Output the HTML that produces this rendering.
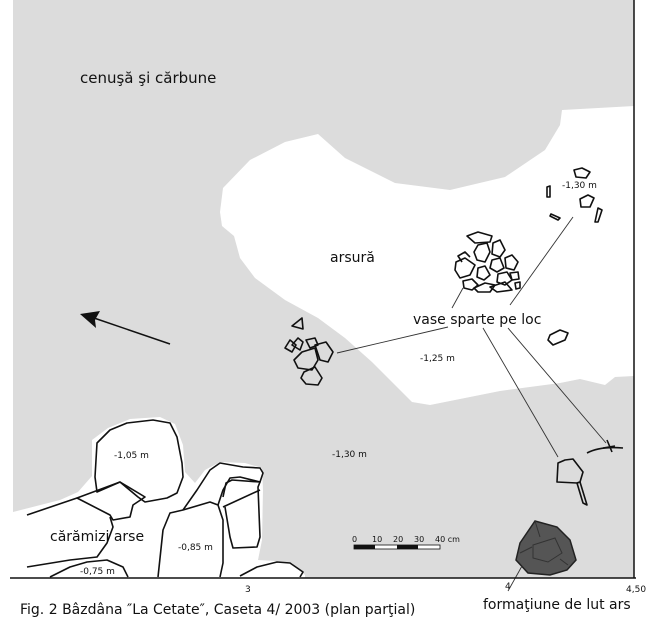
<!DOCTYPE html>
<html><head><meta charset="utf-8"><style>
html,body{margin:0;padding:0;background:#fff;}
svg{display:block;}
text{font-family:"DejaVu Sans","Liberation Sans",sans-serif;fill:#111;}
</style></head><body>
<svg width="650" height="636" viewBox="0 0 650 636" xmlns="http://www.w3.org/2000/svg">
<rect width="650" height="636" fill="#fff"/>
<rect x="13" y="0" width="621" height="578" fill="#dcdcdc"/>
<path d="M220,212 L223,188 L250,160 L285,142 L318,134 L345,158 L395,183 L450,190 L505,177 L545,150 L560,125 L562,110 L634,106 L634,376 L615,377 L605,385 L580,379 L560,383 L500,391 L430,405 L412,402 L395,385 L372,362 L345,338 L318,318 L285,300 L255,278 L240,258 L234,236 L222,226 Z" fill="#fff"/>
<path d="M13,512 L60,500 L78,492 L92,476 L92,440 L108,428 L130,419 L160,417 L175,424 L183,445 L185,472 L195,483 L205,470 L220,462 L245,463 L262,468 L263,490 L262,540 L258,560 L275,561 L292,563 L305,575 L305,578 L13,578 Z" fill="#fff"/>
<g fill="none" stroke="#111" stroke-width="1.6" stroke-linejoin="round">
<path d="M97,443 L110,430 L127,423 L153,420 L170,423 L177,437 L182,463 L183,477 L177,493 L167,498 L145,502 L138,497 L120,482 L97,492 L95,477 Z"/>
<path d="M77,498 L120,482 L145,497 L133,505 L130,517 L113,520 L110,515 Z"/>
<path d="M27,515 L77,498"/>
<path d="M110,517 L113,527 L107,543 L97,557 L70,560 L27,567"/>
<path d="M50,577 L70,567 L87,562 L107,560 L123,567 L128,577"/>
<path d="M158,577 L163,530 L170,513 L183,510 L210,502 L218,505 L223,520 L223,563 L220,577"/>
<path d="M183,510 L197,490 L210,470 L220,463 L243,467 L260,468 L263,473 L260,482 L240,477 L230,478 L223,490 L218,505"/>
<path d="M223,497 L226,483 L232,480 L260,482 L258,487 L260,537 L257,547 L233,548 L230,537 L225,507"/>
<path d="M223,507 L260,490"/>
<path d="M240,576 L257,567 L277,562 L290,563 L303,572 L300,577"/>
<path d="M558,463 L565,460 L573,459 L583,472 L580,482 L577,483 L557,482 Z"/>
<path d="M577,483 L580,482 L587,505 L583,503 Z"/>
<path d="M587,453 Q600,446 623,448"/>
<path d="M607,440 L612,452 M603,448 L615,446"/>
<path d="M467,236 L478,232 L492,236 L490,242 L475,243 Z"/>
<path d="M478,245 L487,243 L490,252 L485,262 L477,260 L474,252 Z"/>
<path d="M493,243 L500,240 L505,250 L500,257 L492,254 Z"/>
<path d="M456,262 L465,258 L475,265 L470,275 L460,278 L455,270 Z"/>
<path d="M478,268 L485,266 L490,275 L484,280 L477,277 Z"/>
<path d="M492,260 L500,258 L504,268 L497,272 L490,268 Z"/>
<path d="M505,258 L512,255 L518,262 L514,270 L506,268 Z"/>
<path d="M498,274 L507,272 L512,280 L505,285 L497,282 Z"/>
<path d="M463,281 L472,279 L478,285 L472,290 L464,288 Z"/>
<path d="M474,288 L485,283 L495,285 L490,292 L478,292 Z"/>
<path d="M490,287 L505,282 L512,290 L497,292 Z"/>
<path d="M515,283 L520,282 L520,288 L516,289 Z"/>
<path d="M462,262 L458,256 L465,252 L470,257"/>
<path d="M510,273 L518,272 L519,279 L512,280 Z"/>
<path d="M574,170 L582,168 L590,172 L586,178 L576,177 Z"/>
<path d="M547,187 L550,186 L550,197 L547,197 Z"/>
<path d="M580,199 L588,195 L594,198 L590,207 L581,207 Z"/>
<path d="M551,214 L560,218 L558,220 L550,216 Z"/>
<path d="M598,208 L602,210 L598,222 L595,222 Z"/>
<path d="M550,335 L560,330 L568,333 L565,340 L553,345 L548,340 Z"/>
<path d="M292,326 L302,318 L303,329 Z"/>
<path d="M285,348 L290,340 L296,345 L292,352 Z"/>
<path d="M292,345 L298,338 L303,342 L300,350 Z"/>
<path d="M302,352 L315,348 L318,360 L312,370 L298,368 L294,360 Z"/>
<path d="M315,345 L326,342 L333,352 L328,362 L320,360 Z"/>
<path d="M306,340 L315,338 L318,345 L310,348 Z"/>
<path d="M304,372 L315,367 L322,378 L318,385 L306,384 L301,378 Z"/>
</g>
<path d="M535,521 L557,527 L570,540 L576,560 L567,570 L550,575 L528,573 L516,560 L520,543 Z" fill="#555" stroke="#222" stroke-width="1.5"/>
<path d="M533,545 L555,538 L562,553 L548,562 L533,558 Z M535,521 L540,537 M520,553 L532,547 M560,559 L568,565" fill="none" stroke="#333" stroke-width="1"/>
<g stroke="#333" stroke-width="0.9" fill="none">
<path d="M337,353 L448,327"/>
<path d="M463,288 L452,308"/>
<path d="M573,217 L510,305"/>
<path d="M483,328 L558,457"/>
<path d="M508,328 L606,443"/>
<path d="M508,591 L522,566"/>
</g>
<line x1="170" y1="344" x2="94" y2="318" stroke="#111" stroke-width="1.5"/>
<path d="M80,314 L100,311 L95,320 L96,328 Z" fill="#111"/>
<line x1="10" y1="578" x2="636" y2="578" stroke="#111" stroke-width="1.5"/>
<line x1="634" y1="0" x2="634" y2="578" stroke="#111" stroke-width="1.5"/>
<rect x="354" y="545" width="86" height="4" fill="#fff" stroke="#111" stroke-width="0.8"/>
<rect x="354" y="545" width="21" height="4" fill="#111"/>
<rect x="397" y="545" width="21" height="4" fill="#111"/>
<g font-size="8">
<text x="352" y="542">0</text><text x="372" y="542">10</text><text x="393" y="542">20</text><text x="414" y="542">30</text><text x="435" y="542">40 cm</text>
</g>
<text x="80" y="83" font-size="15">cenuşă şi cărbune</text>
<text x="330" y="262" font-size="14">arsură</text>
<text x="413" y="324" font-size="14">vase sparte pe loc</text>
<text x="420" y="361" font-size="9">-1,25 m</text>
<text x="562" y="188" font-size="9">-1,30 m</text>
<text x="332" y="457" font-size="9">-1,30 m</text>
<text x="114" y="458" font-size="9">-1,05 m</text>
<text x="178" y="550" font-size="9">-0,85 m</text>
<text x="80" y="574" font-size="9">-0,75 m</text>
<text x="50" y="541" font-size="14">cărămizi arse</text>
<text x="245" y="592" font-size="9">3</text>
<text x="505" y="589" font-size="9">4</text>
<text x="626" y="592" font-size="9">4,50</text>
<text x="483" y="609" font-size="14">formaţiune de lut ars</text>
<text x="20" y="614" font-size="14">Fig. 2  Bâzdâna ″La Cetate″, Caseta 4/ 2003 (plan parţial)</text>
</svg>
</body></html>
